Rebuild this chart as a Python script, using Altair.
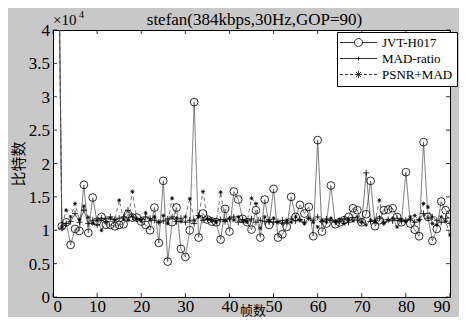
import altair as alt
import pandas as pd

frames = list(range(1, 91))
series_names = ["JVT-H017", "MAD-ratio", "PSNR+MAD"]

# bits per frame, in units of 10^4
jvt_h017 = [7.0, 1.06, 1.12, 0.78, 1.02, 0.99, 1.68, 0.96, 1.49, 1.13,
            1.20, 1.08, 1.08, 1.06, 1.08, 1.09, 1.24, 1.19, 1.19, 1.13,
            1.08, 1.00, 1.34, 0.81, 1.74, 0.53, 1.12, 1.34, 0.72, 0.60,
            1.00, 2.92, 0.89, 1.25, 1.16, 1.13, 1.12, 0.86, 1.32, 0.98,
            1.58, 1.46, 1.17, 1.12, 1.01, 1.30, 0.89, 1.46, 1.08, 1.62,
            0.89, 0.94, 1.05, 1.50, 1.20, 1.38, 1.25, 1.35, 0.91, 2.35,
            0.98, 1.10, 1.67, 1.09, 1.12, 1.15, 1.20, 1.33, 1.30, 1.12,
            1.24, 1.74, 1.06, 1.15, 1.30, 1.31, 1.33, 1.20, 1.12, 1.87,
            1.10, 1.01, 0.91, 2.32, 1.20, 0.84, 1.02, 1.43, 1.30, 1.24]

mad_ratio = [7.0, 1.03, 1.10, 1.13, 1.25, 1.12, 1.30, 1.10, 1.15, 1.08,
             1.18, 1.17, 1.20, 1.16, 1.18, 1.20, 1.30, 1.20, 1.17, 1.16,
             1.20, 1.18, 1.15, 1.12, 1.14, 1.17, 1.20, 1.13, 1.18, 1.12,
             1.15, 1.10, 1.22, 1.15, 1.17, 1.15, 1.14, 1.16, 1.13, 1.17,
             1.20, 1.12, 1.16, 1.14, 1.17, 1.12, 1.15, 1.13, 1.16, 1.12,
             1.13, 1.15, 1.12, 1.17, 1.14, 1.16, 1.12, 1.18, 1.15, 1.20,
             1.13, 1.17, 1.15, 1.12, 1.14, 1.17, 1.12, 1.19, 1.15, 1.12,
             1.86, 1.13, 1.15, 1.18, 1.12, 1.16, 1.14, 1.18, 1.13, 1.15,
             1.17, 1.12, 1.16, 1.25, 1.18, 1.20, 1.15, 1.12, 1.18, 1.10]

psnr_mad = [7.0, 1.05, 1.30, 1.20, 1.40, 1.16, 1.36, 1.19, 1.10, 1.15,
            1.00, 1.12, 1.18, 1.15, 1.45, 1.17, 1.15, 1.58, 1.17, 1.14,
            1.26, 1.15, 1.20, 1.12, 1.22, 1.10, 1.48, 1.18, 1.13, 1.20,
            1.47, 1.15, 1.20, 1.58, 1.17, 1.15, 1.12, 1.57, 1.15, 1.18,
            1.15, 1.20, 1.14, 1.12, 1.48, 1.40, 1.03, 1.20, 1.13, 1.18,
            1.12, 1.10, 1.15, 1.12, 1.20, 1.15, 1.10, 1.18, 1.12, 1.05,
            1.15, 1.12, 1.18, 1.13, 1.16, 1.10, 1.17, 1.14, 1.20, 1.12,
            1.08, 1.15, 1.12, 1.45, 1.10, 1.15, 1.18, 1.05, 1.15, 1.13,
            1.20, 1.22, 1.15, 1.40, 1.35, 1.10, 1.08, 1.20, 1.13, 0.93]

x_ticks = [0, 10, 20, 30, 40, 50, 60, 70, 80, 90]
y_ticks = [0, 0.5, 1, 1.5, 2, 2.5, 3, 3.5, 4]
y_tick_labels = ["0", "0.5", "1", "1.5", "2", "2.5", "3", "3.5", "4"]
title_text = "stefan(384kbps,30Hz,GOP=90)"

rows = []
for name, vals in zip(series_names, [jvt_h017, mad_ratio, psnr_mad]):
    for f, v in zip(frames, vals):
        rows.append({"frame": f, "series": name, "bits": v})
df = pd.DataFrame(rows)
xt = pd.DataFrame({"t": x_ticks})
yt = pd.DataFrame({"t": y_ticks, "label": y_tick_labels})
one = pd.DataFrame({"k": [0]})

W, H = 397, 267
SERIF = "Liberation Serif"

xs = alt.Scale(domain=[0, 90], nice=False, zero=False)
ys = alt.Scale(domain=[0, 4], nice=False)

X = alt.X("frame:Q", scale=xs,
          axis=alt.Axis(values=x_ticks, ticks=False, tickSize=0, domain=False, grid=False,
                        labelFont=SERIF, labelFontSize=17, labelColor="black", labelPadding=1,
                        labelOverlap=False,
                        title="帧数", titleFont="Noto Sans CJK SC", titleFontSize=13,
                        titleFontWeight="normal", titleColor="black",
                        titleX=W / 2 + 1, titleY=13, titleBaseline="middle", titleAlign="center"))
Y = alt.Y("bits:Q", scale=ys,
          axis=alt.Axis(values=y_ticks, ticks=False, tickSize=0, domain=False, grid=False,
                        labels=False,
                        title="比特数", titleFont="Noto Sans CJK SC", titleFontSize=15,
                        titleFontWeight="normal", titleColor="black", titleAngle=-90,
                        titleX=-35, titleY=H / 2, titleBaseline="middle", titleAlign="center"))

base = alt.Chart(df)

dash_scale = alt.Scale(domain=series_names, range=[[1, 0], [1, 0], [4, 3]])
lines = base.mark_line(clip=True, strokeWidth=0.7, color="#3a3a3a").encode(
    x=X, y=Y, detail="series:N",
    strokeDash=alt.StrokeDash("series:N", scale=dash_scale, legend=None),
)

plus_path = "M-1,0L1,0M0,-1L0,1"
star_path = "M0,-1L0,1M-1,0L1,0M-0.7,-0.7L0.7,0.7M-0.7,0.7L0.7,-0.7"
points = base.mark_point(clip=True, filled=False, strokeWidth=0.8, color="black", opacity=1).encode(
    x=X, y=Y,
    shape=alt.Shape("series:N", scale=alt.Scale(domain=series_names,
                                                range=["circle", plus_path, star_path]), legend=None),
    size=alt.Size("series:N", scale=alt.Scale(domain=series_names, range=[60, 16, 49]), legend=None),
)

leg_jvt = ("M-3.08,0L-0.67,0M0.67,0L3.08,0"
           "M0.67,0A0.67,0.67 0 1,1 -0.67,0A0.67,0.67 0 1,1 0.67,0Z")
leg_mad = "M-3.08,0L3.08,0M0,-0.33L0,0.33"
leg_psnr = ("M-3.08,0L-2.58,0M-2.25,0L-1.75,0M-1.42,0L-0.92,0"
            "M0.92,0L1.42,0M1.75,0L2.25,0M2.58,0L3.08,0"
            "M0,-0.58L0,0.58M-0.58,0L0.58,0M-0.41,-0.41L0.41,0.41M-0.41,0.41L0.41,-0.41")
legend_layer = base.mark_point(filled=False, opacity=0, color="black").encode(
    x=X, y=Y,
    shape=alt.Shape("series:N",
                    scale=alt.Scale(domain=series_names, range=[leg_jvt, leg_mad, leg_psnr]),
                    legend=alt.Legend(title=None, orient="none", legendX=284, legendY=2,
                                      padding=4, strokeColor="black", fillColor="white",
                                      cornerRadius=0, labelFont=SERIF, labelFontSize=13,
                                      labelColor="black", rowPadding=2, symbolSize=144,
                                      symbolStrokeWidth=0.8, symbolStrokeColor="black",
                                      symbolFillColor="white", symbolOpacity=1,
                                      symbolOffset=11, labelOffset=17)),
)

tick_col = "black"
left_ticks = alt.Chart(yt).mark_rule(color=tick_col, strokeWidth=0.8).encode(
    y=alt.Y("t:Q", scale=ys), x=alt.value(0), x2=alt.value(4))
right_ticks = alt.Chart(yt).mark_rule(color=tick_col, strokeWidth=0.8).encode(
    y=alt.Y("t:Q", scale=ys), x=alt.value(W - 4), x2=alt.value(W))
bottom_ticks = alt.Chart(xt).mark_rule(color=tick_col, strokeWidth=0.8).encode(
    x=alt.X("t:Q", scale=xs), y=alt.value(H - 4), y2=alt.value(H))
top_ticks = alt.Chart(xt).mark_rule(color=tick_col, strokeWidth=0.8).encode(
    x=alt.X("t:Q", scale=xs), y=alt.value(0), y2=alt.value(4))

y_labels = alt.Chart(yt).mark_text(font=SERIF, fontSize=17, align="right", baseline="middle",
                                   color="black", dy=1).encode(
    y=alt.Y("t:Q", scale=ys), x=alt.value(-3), text="label:N")

exp_text = alt.Chart(one).mark_text(text="×10", font=SERIF, fontSize=15, align="left",
                                    baseline="alphabetic", color="black").encode(
    x=alt.value(0), y=alt.value(-5))
exp_sup = alt.Chart(one).mark_text(text="4", font=SERIF, fontSize=10, align="left",
                                   baseline="alphabetic", color="black").encode(
    x=alt.value(26), y=alt.value(-12))
title_mark = alt.Chart(one).mark_text(text=title_text, font=SERIF, fontSize=17, align="center",
                                      baseline="alphabetic", color="black").encode(
    x=alt.value(W / 2 + 3), y=alt.value(-5))

chart = alt.layer(
    left_ticks, right_ticks, bottom_ticks, top_ticks,
    lines, points, legend_layer, y_labels, exp_text, exp_sup, title_mark,
).resolve_scale(shape="independent", size="independent").properties(
    width=W, height=H,
    background="#c8c8c8",
    padding={"left": 45, "top": 22, "right": 9, "bottom": 20},
    autosize=alt.AutoSizeParams(type="none"),
).configure_view(fill="white", stroke="black", strokeWidth=1)

chart.save("out.html", embed_options={"renderer": "svg", "actions": False})
